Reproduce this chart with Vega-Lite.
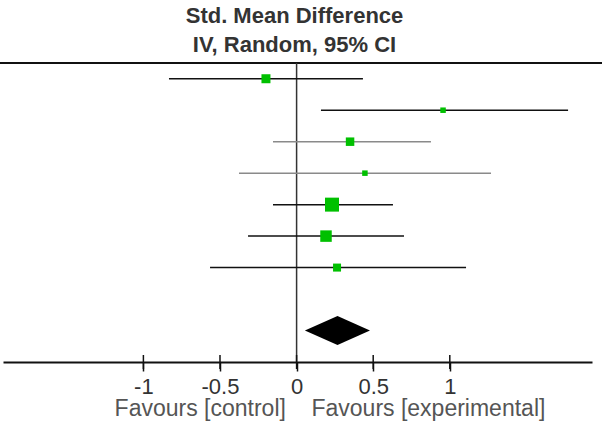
{
  "$schema": "https://vega.github.io/schema/vega-lite/v6.json",
  "width": 589,
  "height": 299,
  "autosize": {"type": "none"},
  "padding": {"left": 3, "top": 63, "right": 10, "bottom": 62},
  "background": "white",
  "title": {
    "text": ["Std. Mean Difference", "IV, Random, 95% CI"],
    "font": "Liberation Sans",
    "fontSize": 22,
    "fontWeight": "bold",
    "color": "#333333",
    "lineHeight": 29,
    "anchor": "middle",
    "baseline": "bottom",
    "offset": 5,
    "dy": 22,
    "dx": -3
  },
  "config": {
    "view": {"stroke": null},
    "axisX": {
      "grid": false,
      "domainColor": "#111111",
      "domainWidth": 2,
      "tickColor": "#111111",
      "tickWidth": 1.5,
      "tickSize": 9,
      "labelFont": "Liberation Sans",
      "labelFontSize": 22,
      "labelColor": "#333333",
      "labelPadding": 5,
      "labelFlush": false,
      "labelOverlap": false,
      "titleFont": "Liberation Sans",
      "titleFontSize": 23,
      "titleFontWeight": "normal",
      "titleColor": "#555555",
      "titleX": 326.5,
      "titleY": 53,
      "titleAlign": "center",
      "titleBaseline": "alphabetic"
    }
  },
  "datasets": {
    "studies": [
      {"study": "Study 1", "row": 0, "smd": -0.2, "lo": -0.833, "hi": 0.433, "weight": 13.4},
      {"study": "Study 2", "row": 1, "smd": 0.956, "lo": 0.159, "hi": 1.772, "weight": 5.0},
      {"study": "Study 3", "row": 2, "smd": 0.349, "lo": -0.154, "hi": 0.877, "weight": 11.9},
      {"study": "Study 4", "row": 3, "smd": 0.446, "lo": -0.376, "hi": 1.269, "weight": 5.0},
      {"study": "Study 5", "row": 4, "smd": 0.231, "lo": -0.154, "hi": 0.629, "weight": 32.3},
      {"study": "Study 6", "row": 5, "smd": 0.192, "lo": -0.317, "hi": 0.701, "weight": 21.8},
      {"study": "Study 7", "row": 6, "smd": 0.264, "lo": -0.565, "hi": 1.106, "weight": 10.6}
    ],
    "pooled": [
      {"smd": 0.054, "ylo": 8, "yhi": 8},
      {"smd": 0.267, "ylo": 7.54, "yhi": 8.46},
      {"smd": 0.479, "ylo": 8, "yhi": 8}
    ],
    "ticks": [{"v": -1}, {"v": -0.5}, {"v": 0}, {"v": 0.5}, {"v": 1}],
    "one": [{"n": 1}]
  },
  "layer": [
    {
      "data": {"name": "one"},
      "mark": {"type": "rule", "color": "#111111", "strokeWidth": 2},
      "encoding": {
        "x": {"datum": -1.94, "type": "quantitative", "scale": {"domain": [-1.9164, 1.9282], "nice": false, "zero": false},
              "title": "Favours [control]\u00a0\u00a0\u00a0\u00a0Favours [experimental]",
              "axis": {"orient": "bottom", "values": [-1, -0.5, 0, 0.5, 1], "labelExpr": "toString(datum.value)"}},
        "x2": {"datum": 2.0},
        "y": {"datum": -0.5, "type": "quantitative", "scale": {"domain": [-0.5, 9], "reverse": true, "nice": false, "zero": false}, "axis": null}
      }
    },
    {
      "data": {"name": "one"},
      "mark": {"type": "rule", "color": "#333333", "strokeWidth": 1.5},
      "encoding": {
        "x": {"datum": 0, "type": "quantitative", "scale": {"domain": [-1.9164, 1.9282], "nice": false, "zero": false},
              "title": "Favours [control]\u00a0\u00a0\u00a0\u00a0Favours [experimental]",
              "axis": {"orient": "bottom", "values": [-1, -0.5, 0, 0.5, 1], "labelExpr": "toString(datum.value)"}}
      }
    },
    {
      "data": {"name": "studies"},
      "mark": {"type": "rule", "strokeWidth": 1.5},
      "encoding": {
        "x": {"field": "lo", "type": "quantitative", "scale": {"domain": [-1.9164, 1.9282], "nice": false, "zero": false},
              "title": "Favours [control]\u00a0\u00a0\u00a0\u00a0Favours [experimental]",
              "axis": {"orient": "bottom", "values": [-1, -0.5, 0, 0.5, 1], "labelExpr": "toString(datum.value)"}},
        "x2": {"field": "hi"},
        "y": {"field": "row", "type": "quantitative", "scale": {"domain": [-0.5, 9], "reverse": true, "nice": false, "zero": false}, "axis": null},
        "color": {"condition": {"test": "datum.row == 2 || datum.row == 3", "value": "#8a8a8a"}, "value": "#111111"}
      }
    },
    {
      "data": {"name": "studies"},
      "mark": {"type": "point", "shape": "square", "filled": true, "color": "#00c000", "opacity": 1, "strokeWidth": 0},
      "encoding": {
        "x": {"field": "smd", "type": "quantitative", "scale": {"domain": [-1.9164, 1.9282], "nice": false, "zero": false},
              "title": "Favours [control]\u00a0\u00a0\u00a0\u00a0Favours [experimental]",
              "axis": {"orient": "bottom", "values": [-1, -0.5, 0, 0.5, 1], "labelExpr": "toString(datum.value)"}},
        "y": {"field": "row", "type": "quantitative", "scale": {"domain": [-0.5, 9], "reverse": true, "nice": false, "zero": false}, "axis": null},
        "size": {"field": "weight", "type": "quantitative", "scale": {"domain": [0, 100], "range": [0, 605]}, "legend": null}
      }
    },
    {
      "data": {"name": "pooled"},
      "mark": {"type": "area", "orient": "vertical", "color": "#000000", "opacity": 1},
      "encoding": {
        "x": {"field": "smd", "type": "quantitative", "scale": {"domain": [-1.9164, 1.9282], "nice": false, "zero": false},
              "title": "Favours [control]\u00a0\u00a0\u00a0\u00a0Favours [experimental]",
              "axis": {"orient": "bottom", "values": [-1, -0.5, 0, 0.5, 1], "labelExpr": "toString(datum.value)"}},
        "y": {"field": "ylo", "type": "quantitative", "scale": {"domain": [-0.5, 9], "reverse": true, "nice": false, "zero": false}, "axis": null},
        "y2": {"field": "yhi"}
      }
    },
    {
      "data": {"name": "ticks"},
      "mark": {"type": "tick", "orient": "vertical", "size": 14, "thickness": 1.5, "color": "#111111", "opacity": 1},
      "encoding": {
        "x": {"field": "v", "type": "quantitative", "scale": {"domain": [-1.9164, 1.9282], "nice": false, "zero": false},
              "title": "Favours [control]\u00a0\u00a0\u00a0\u00a0Favours [experimental]",
              "axis": {"orient": "bottom", "values": [-1, -0.5, 0, 0.5, 1], "labelExpr": "toString(datum.value)"}},
        "y": {"datum": 9, "type": "quantitative", "scale": {"domain": [-0.5, 9], "reverse": true, "nice": false, "zero": false}, "axis": null}
      }
    }
  ]
}
